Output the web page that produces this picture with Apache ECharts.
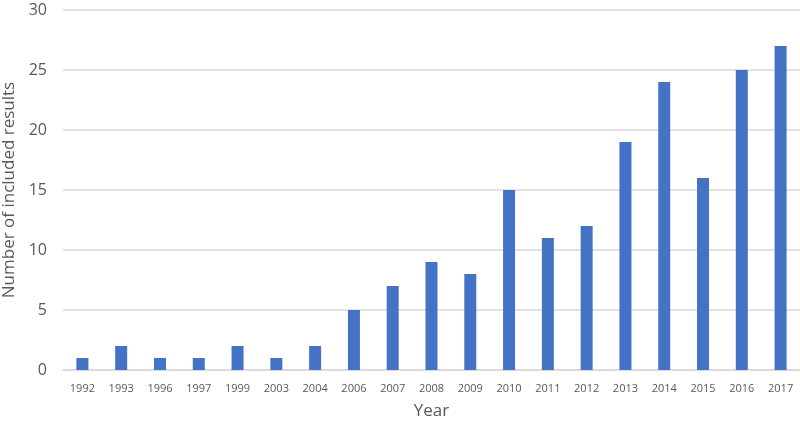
<!DOCTYPE html>
<html>
<head>
<meta charset="utf-8">
<script src="https://cdn.jsdelivr.net/npm/echarts@6/dist/echarts.min.js"></script>
<style>
  html, body { margin: 0; padding: 0; background: #fff; }
  #chart { width: 800px; height: 429px; }
</style>
</head>
<body>
<div id="chart"></div>
<script>
// years on the x axis (gaps in the original are kept as-is)
const years = ['1992', '1993', '1996', '1997', '1999', '2003', '2004', '2006', '2007', '2008',
               '2009', '2010', '2011', '2012', '2013', '2014', '2015', '2016', '2017'];
// number of included results per year
const counts = [1, 2, 1, 1, 2, 1, 2, 5, 7, 9, 8, 15, 11, 12, 19, 24, 16, 25, 27];

const chart = echarts.init(document.getElementById('chart'));

chart.setOption({
    animation: false,
    textStyle: { fontFamily: 'Open Sans, Noto Sans, sans-serif' },
    grid: { left: 63, right: 0, top: 10, bottom: 59, outerBoundsMode: 'none', containLabel: false },
    xAxis: {
        type: 'category',
        data: years,
        name: 'Year',
        nameLocation: 'middle',
        nameGap: 33,
        nameTextStyle: { fontSize: 17, color: '#595959' },
        axisLine: { lineStyle: { color: '#d9d9d9', width: 1.5 } },
        axisTick: { show: false },
        axisLabel: { fontSize: 11, color: '#595959', margin: 13 }
    },
    yAxis: {
        type: 'value',
        min: 0,
        max: 30,
        interval: 5,
        name: 'Number of included results',
        nameLocation: 'middle',
        nameGap: 44,
        nameTextStyle: { fontSize: 17, color: '#595959' },
        axisLine: { show: false },
        axisTick: { show: false },
        axisLabel: { fontSize: 16, color: '#595959', margin: 16 },
        splitLine: { lineStyle: { color: '#d9d9d9', width: 1.5 } }
    },
    series: [{
        type: 'bar',
        data: counts,
        barWidth: 12,
        itemStyle: { color: '#4472c4' }
    }]
});
</script>
</body>
</html>
